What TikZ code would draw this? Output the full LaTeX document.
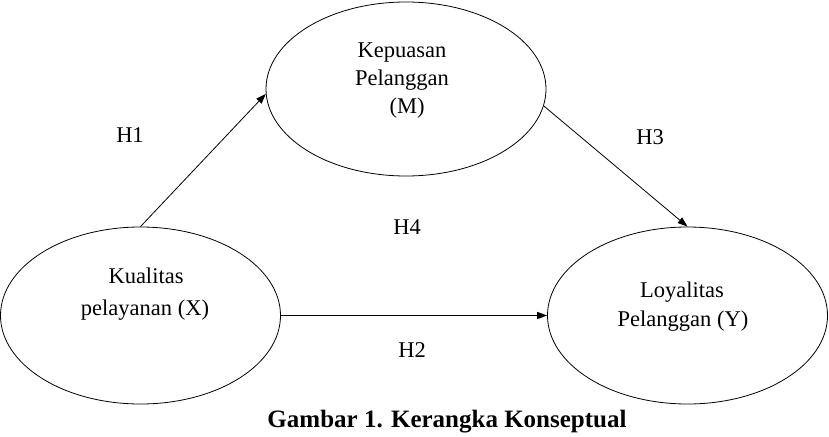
\documentclass[tikz,border=0pt]{standalone}
\usepackage{fontspec}
\setmainfont{Liberation Serif}
\usetikzlibrary{positioning,shapes,arrows.meta}

\begin{document}
\begin{tikzpicture}[x=1pt,y=-1pt]
\tikzstyle{every node}+=[inner sep=0pt, font=\fontsize{22.5}{27}\selectfont]
\tikzstyle{var}=[draw, ellipse, line width=0.8pt, minimum width=280pt]
\tikzstyle{link}=[-{Triangle[length=10pt,width=7pt]}, line width=0.8pt]
\tikzstyle{txt}=[anchor=base]
\useasboundingbox (0,0) rectangle (829,436);
% variables
\node [var, minimum height=174pt] (M) at (406,89) {};
\node [var, minimum height=177pt] (X) at (140.5,315.5) {};
\node [var, minimum height=177pt] (Y) at (687.5,315.5) {};
\node [txt] (m1) at (402,58) {Kepuasan};
\node [txt] (m2) at (402,85) {Pelanggan};
\node [txt] (m3) at (407,113) {(M)};
\node [txt] (x1) at (146,283) {Kualitas};
\node [txt] (x2) at (145,315) {pelayanan (X)};
\node [txt] (y1) at (682,297) {Loyalitas};
\node [txt] (y2) at (683,326) {Pelanggan (Y)};
% hypotheses
\draw [link] (X.north) -- (M.182);
\draw [link] (M.-7) -- (Y.north);
\draw [link, line width=1.6pt] (X.east) -- (Y.west);
\node (h1) at (130,135) {H1};
\node (h3) at (650,137) {H3};
\node (h4) at (407,227) {H4};
\node (h2) at (412,350) {H2};
\node [font=\fontsize{25}{30}\selectfont\bfseries] (cap) at (447,422) {Gambar 1. Kerangka Konseptual};
\end{tikzpicture}
\end{document}
